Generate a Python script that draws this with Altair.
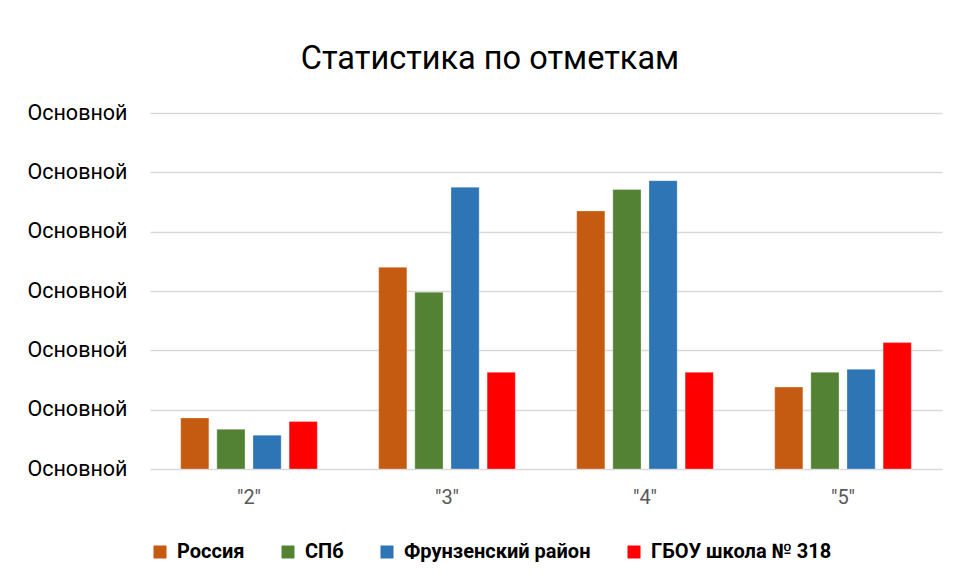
import altair as alt
import pandas as pd

categories = ['"2"', '"3"', '"4"', '"5"']
series = ["Россия", "СПб", "Фрунзенский район", "ГБОУ школа № 318"]
colors = ["#C55A11", "#548235", "#2E75B6", "#FF0000"]
russia = [8.6, 34.0, 43.5, 13.8]
spb = [6.7, 29.8, 47.1, 16.3]
frunz = [5.7, 47.5, 48.6, 16.8]
school = [8.0, 16.3, 16.3, 21.3]
y_ticks = [0, 10, 20, 30, 40, 50, 60]
y_label = "Основной"

rows = []
for name, vals in zip(series, [russia, spb, frunz, school]):
    for c, v in zip(categories, vals):
        rows.append({"cat": c, "series": name, "value": v})
df = pd.DataFrame(rows)

FONT = "Roboto"

chart = alt.Chart(df).mark_bar(stroke="white", strokeWidth=0.5, strokeOpacity=0.6).encode(
    x=alt.X("cat:N", sort=categories, title=None,
            scale=alt.Scale(paddingInner=0.31, paddingOuter=0.155),
            axis=alt.Axis(labelAngle=0, labelFontSize=20, labelColor="#595959",
                          labelFont=FONT, ticks=False, domain=False, labelPadding=18)),
    xOffset=alt.XOffset("series:N", sort=series,
                        scale=alt.Scale(paddingInner=0.22, paddingOuter=0)),
    y=alt.Y("value:Q", title=None, scale=alt.Scale(domain=[0, 60], nice=False),
            axis=alt.Axis(values=y_ticks, labelExpr=f"'{y_label}'", labelFontSize=21.5,
                          labelColor="#000000", labelFont=FONT, ticks=False,
                          domain=False, labelPadding=23, gridColor="#D9D9D9",
                          gridWidth=1.5)),
    color=alt.Color("series:N", sort=series,
                    scale=alt.Scale(domain=series, range=colors),
                    legend=alt.Legend(title=None, orient="none", direction="horizontal",
                                      legendX=0, legendY=429, symbolType="square",
                                      symbolSize=169, symbolStrokeWidth=0,
                                      labelFontSize=20, labelFontWeight="bold",
                                      labelFont=FONT, labelColor="#000000",
                                      labelOffset=7, columnPadding=33,
                                      labelLimit=400)),
).properties(
    width=792,
    height=356,
    title=alt.TitleParams("Статистика по отметкам", fontSize=32.5, fontWeight="normal",
                          font=FONT, color="#000000", anchor="middle", dx=-56, offset=27),
    autosize=alt.AutoSizeParams(type="none"),
    padding={"left": 142, "top": 105, "right": 7, "bottom": 108},
).configure_view(stroke=None)

chart.save("out.html", embed_options={"renderer": "svg", "actions": False})
